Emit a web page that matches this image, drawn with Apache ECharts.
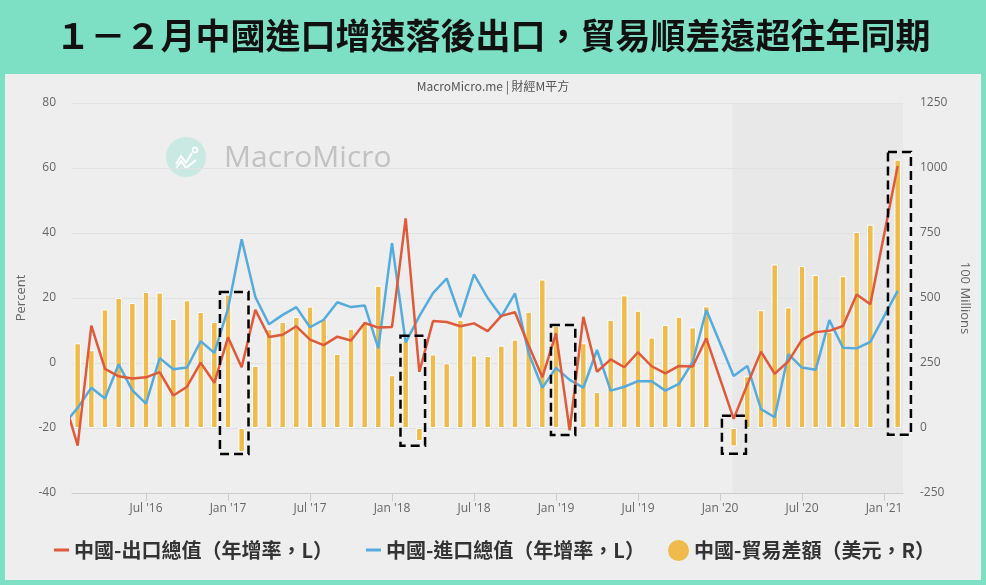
<!DOCTYPE html>
<html><head><meta charset="utf-8">
<script src="https://cdn.jsdelivr.net/npm/echarts@6/dist/echarts.min.js"></script>
<style>html,body{margin:0;padding:0;background:#7ddfc3}#c{width:986px;height:585px}</style>
</head><body><div id="c"></div><script>
// Months (Jan of 2020 and 2021 are reported combined with Feb)
const months = [
 '2016-01','2016-02','2016-03','2016-04','2016-05','2016-06','2016-07','2016-08','2016-09','2016-10','2016-11','2016-12',
 '2017-01','2017-02','2017-03','2017-04','2017-05','2017-06','2017-07','2017-08','2017-09','2017-10','2017-11','2017-12',
 '2018-01','2018-02','2018-03','2018-04','2018-05','2018-06','2018-07','2018-08','2018-09','2018-10','2018-11','2018-12',
 '2019-01','2019-02','2019-03','2019-04','2019-05','2019-06','2019-07','2019-08','2019-09','2019-10','2019-11','2019-12',
 '2020-02','2020-03','2020-04','2020-05','2020-06','2020-07','2020-08','2020-09','2020-10','2020-11','2020-12',
 '2021-02'
];
// 中國-出口總值（年增率，L）
const exportYoY = [
 -11.2,-25.4,11.5,-1.8,-4.1,-4.8,-4.4,-2.8,-10.0,-7.3,0.1,-6.1,
 7.9,-1.3,16.4,8.0,8.7,11.3,7.2,5.5,8.1,6.9,12.3,10.9,
 11.1,44.5,-2.7,12.9,12.6,11.3,12.2,9.8,14.5,15.6,5.4,-4.4,
 9.1,-20.7,14.2,-2.7,1.1,-1.3,3.3,-1.0,-3.2,-0.9,-1.1,7.6,
 -17.2,-6.6,3.5,-3.3,0.5,7.2,9.5,9.9,11.4,21.1,18.1,
 60.6
];
// 中國-進口總值（年增率，L）
const importYoY = [
 -18.8,-13.8,-7.6,-10.9,-0.4,-8.4,-12.5,1.5,-1.9,-1.4,6.7,3.1,
 16.7,38.1,20.3,11.9,14.8,17.2,11.0,13.3,18.7,17.2,17.7,4.5,
 36.9,6.3,14.4,21.5,26.0,14.1,27.3,20.0,14.3,21.4,3.0,-7.6,
 -1.5,-5.2,-7.6,4.0,-8.5,-7.3,-5.6,-5.6,-8.5,-6.4,0.3,16.3,
 -4.0,-0.9,-14.2,-16.7,2.7,-1.4,-2.1,13.2,4.7,4.5,6.5,
 22.2
];
// 中國-貿易差額（美元，R） in 100 millions
const tradeBalance = [
 633,326,299,456,500,481,523,521,420,491,446,408,
 513,-92,239,380,408,427,467,420,285,382,402,547,
 203,337,-50,283,249,416,279,277,317,340,447,571,
 392,41,326,138,416,510,451,348,396,428,387,468,
 -71,199,453,629,464,623,589,370,584,754,782,
 1032
];
const xTickValues = [6,12,18,24,30,36,42,48,54,60];
const leftTicks = {min:-40, max:80, interval:20};
const rightTicks = {min:-250, max:1250, interval:250};
// annotation boxes: [monthIndexFrom, monthIndexTo, rightAxisTop, rightAxisBottom]
const annotationBoxes = [
 [11.41,13.50,523,-100],
 [24.62,26.42,355,-68],
 [35.63,37.41,396,-27],
 [48.14,49.90,47,-99],
 [60.29,61.97,1062,-26]
];
const shadeFromIndex = 48.93;

const names = ['中國-出口總值（年增率，L）','中國-進口總值（年增率，L）','中國-貿易差額（美元，R）'];
const monthIdx = months.map(m => { const [y,mo] = m.split('-').map(Number); return (y-2016)*12 + (mo-1); });
const pair = arr => arr.map((v,i) => [monthIdx[i], v]);
const MON = ['Jan','Feb','Mar','Apr','May','Jun','Jul','Aug','Sep','Oct','Nov','Dec'];
const CJK = '"Noto Sans CJK TC","Noto Sans",sans-serif';
const LAT = '"Open Sans","Noto Sans",sans-serif';

const chart = echarts.init(document.getElementById('c'), null, {renderer:'canvas'});
const XMIN = 0.585, XMAX = 61.39;
const option = {
  animation: false,
  backgroundColor: '#7ddfc3',
  title: [{
    text: '１－２月中國進口增速落後出口，貿易順差遠超往年同期',
    left: 'center', top: 13,
    textStyle: {fontFamily: CJK, fontSize: 35, fontWeight: 'bold', color: '#111'}
  },{
    text: 'MacroMicro.me | 財經M平方',
    left: 'center', top: 75,
    textStyle: {fontFamily: CJK, fontSize: 12, fontWeight: 'normal', color: '#555'}
  }],
  grid: {left: 72, right: 83, top: 103, bottom: 92},
  legend: [{
    data: [names[0], names[1]],
    left: 49, top: 535, itemWidth: 15, itemHeight: 3, itemGap: 33, icon: 'rect',
    textStyle: {fontFamily: CJK, fontSize: 20, fontWeight: 'bold', color: '#333'}
  },{
    data: [names[2]],
    left: 663, top: 535, itemWidth: 21, itemHeight: 21, icon: 'circle',
    itemStyle: {borderWidth: 0},
    textStyle: {fontFamily: CJK, fontSize: 20, fontWeight: 'bold', color: '#333'}
  }],
  xAxis: {
    type: 'value', min: XMIN, max: XMAX,
    splitLine: {show: false},
    axisLine: {show: true, onZero: false, lineStyle: {color: '#cccccc'}},
    axisTick: {show: true, customValues: xTickValues, length: 8, lineStyle: {color: '#cccccc'}},
    axisLabel: {
      customValues: xTickValues, margin: 10, color: '#666', fontFamily: LAT, fontSize: 12,
      formatter: v => MON[Math.round(v) % 12] + " '" + String(16 + Math.floor(Math.round(v)/12))
    }
  },
  yAxis: [{
    type: 'value', min: leftTicks.min, max: leftTicks.max, interval: leftTicks.interval,
    name: 'Percent', nameLocation: 'middle', nameGap: 40, nameRotate: 90,
    nameTextStyle: {color: '#666', fontFamily: LAT, fontSize: 13},
    axisLine: {show: false}, axisTick: {show: false},
    axisLabel: {color: '#666', fontFamily: LAT, fontSize: 12, margin: 16},
    splitLine: {lineStyle: {color: '#e2e2e2', width: 1}}
  },{
    type: 'value', min: rightTicks.min, max: rightTicks.max, interval: rightTicks.interval, position: 'right',
    name: '100 Millions', nameLocation: 'middle', nameGap: 45, nameRotate: -90,
    nameTextStyle: {color: '#666', fontFamily: LAT, fontSize: 13},
    axisLine: {show: false}, axisTick: {show: false},
    axisLabel: {color: '#666', fontFamily: LAT, fontSize: 12, margin: 17, formatter: v => String(v)},
    splitLine: {show: false}
  }],
  series: [{
    name: names[0], type: 'line', yAxisIndex: 0, data: pair(exportYoY),
    symbol: 'none', z: 4, lineStyle: {color: '#dd5a3a', width: 2.5}, itemStyle: {color: '#dd5a3a'}
  },{
    name: names[1], type: 'line', yAxisIndex: 0, data: pair(importYoY),
    symbol: 'none', z: 3, lineStyle: {color: '#55acdc', width: 2.5}, itemStyle: {color: '#55acdc'}
  },{
    name: names[2], type: 'bar', yAxisIndex: 1,
    data: pair(tradeBalance).filter(d => d[0] >= XMIN && d[0] <= XMAX),
    barWidth: 6.5, z: 2, itemStyle: {color: '#eebb4c', borderColor: '#ffffff', borderWidth: 1}
  }]
};
chart.setOption(option);

const px = v => chart.convertToPixel({xAxisIndex: 0}, v);
const pyR = v => chart.convertToPixel({yAxisIndex: 1}, v);
const gTop = pyR(rightTicks.max), gBot = pyR(rightTicks.min);
const gfx = [
  {type: 'rect', z: -100, silent: true, shape: {x: 5, y: 74, width: 976, height: 506}, style: {fill: '#eeeeee'}},
  {type: 'rect', z: -90, silent: true,
   shape: {x: px(shadeFromIndex), y: gTop, width: px(XMAX) - px(shadeFromIndex), height: gBot - gTop},
   style: {fill: '#e8e8e8'}},
  // watermark
  {type: 'circle', z: -80, silent: true, shape: {cx: 186, cy: 157, r: 20}, style: {fill: '#c9e9e2'}},
  {type: 'polyline', z: -79, silent: true, shape: {points: [[176,164],[181,156],[186,163],[192,153]]},
   style: {stroke: '#ffffff', lineWidth: 2, fill: null}},
  {type: 'polyline', z: -79, silent: true, shape: {points: [[176,169],[181,161],[186,168],[196,160]]},
   style: {stroke: '#ffffff', lineWidth: 2, fill: null}},
  {type: 'circle', z: -79, silent: true, shape: {cx: 195, cy: 150, r: 2.5}, style: {fill: null, stroke: '#ffffff', lineWidth: 1.5}},
  {type: 'text', z: -79, silent: true, style: {x: 224, y: 158, text: 'MacroMicro', fill: '#c2c2c2',
   font: '30px "Open Sans","Noto Sans",sans-serif', textVerticalAlign: 'middle'}}
];
annotationBoxes.forEach(b => {
  const x0 = px(b[0]), x1 = px(b[1]), y0 = pyR(b[2]), y1 = pyR(b[3]);
  gfx.push({type: 'rect', z: 50, silent: true, shape: {x: x0, y: y0, width: x1 - x0, height: y1 - y0},
    style: {fill: null, stroke: '#000000', lineWidth: 2.5, lineDash: [9, 5]}});
});
chart.setOption({graphic: gfx});
</script></body></html>
